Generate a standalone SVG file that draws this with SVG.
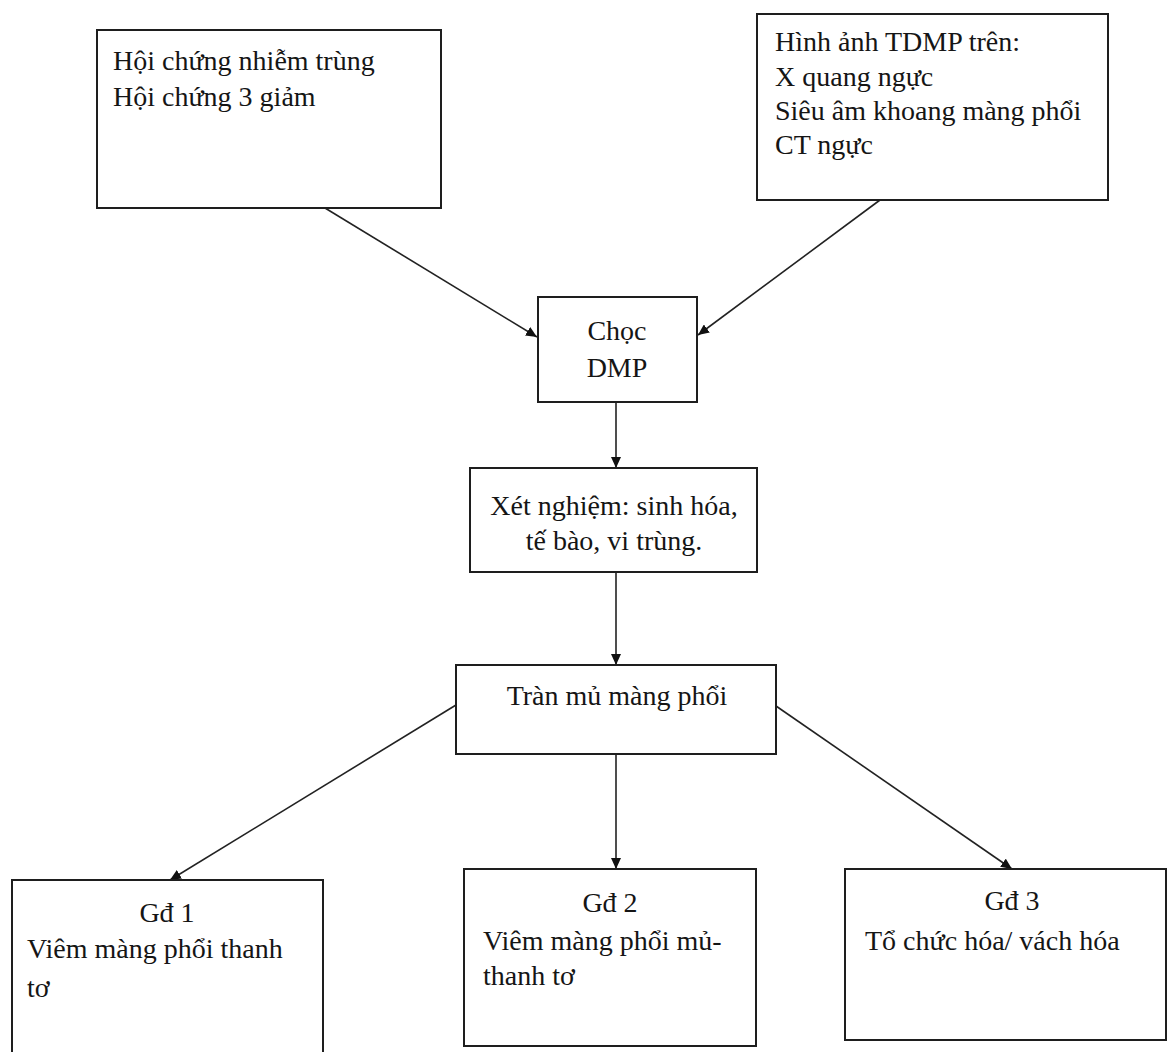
<svg xmlns="http://www.w3.org/2000/svg" width="1169" height="1052" viewBox="0 0 1169 1052">
  <style>
    .box { fill: #ffffff; stroke: #1e1e1e; stroke-width: 2; }
    .lbl { font-family: "Liberation Serif", "Times New Roman", serif; font-size: 28px; fill: #151515; }
    .mid { text-anchor: middle; }
    .edge { stroke: #222222; stroke-width: 1.6; fill: none; marker-end: url(#arrow); }
  </style>
  <defs>
    <marker id="arrow" markerUnits="userSpaceOnUse" markerWidth="12" markerHeight="10" refX="11" refY="5" orient="auto">
      <path d="M0,0 L11,5 L0,10 z" fill="#111111"/>
    </marker>
  </defs>

  <rect x="0" y="0" width="1169" height="1052" fill="#ffffff"/>

  <!-- connectors -->
  <g id="connectors">
    <line class="edge" x1="325" y1="208" x2="537" y2="337"/>
    <line class="edge" x1="880" y1="200" x2="698" y2="335"/>
    <line class="edge" x1="616" y1="402" x2="616" y2="468"/>
    <line class="edge" x1="616" y1="572" x2="616" y2="665"/>
    <line class="edge" x1="456" y1="705" x2="170" y2="880"/>
    <line class="edge" x1="616" y1="754" x2="616" y2="869"/>
    <line class="edge" x1="776" y1="706" x2="1012" y2="869"/>
  </g>

  <!-- clinical signs -->
  <g id="n-clinical">
    <rect class="box" x="97" y="30" width="344" height="178"/>
    <text class="lbl" x="113" y="70">Hội chứng nhiễm trùng</text>
    <text class="lbl" x="113" y="106">Hội chứng 3 giảm</text>
  </g>

  <!-- imaging -->
  <g id="n-imaging">
    <rect class="box" x="757" y="14" width="351" height="186"/>
    <text class="lbl" x="775" y="51">Hình ảnh TDMP trên:</text>
    <text class="lbl" x="775" y="86">X quang ngực</text>
    <text class="lbl" x="775" y="120">Siêu âm khoang màng phổi</text>
    <text class="lbl" x="775" y="154">CT ngực</text>
  </g>

  <!-- pleural tap -->
  <g id="n-tap">
    <rect class="box" x="538" y="297" width="159" height="105"/>
    <text class="lbl mid" x="617" y="340">Chọc</text>
    <text class="lbl mid" x="617" y="377">DMP</text>
  </g>

  <!-- lab tests -->
  <g id="n-tests">
    <rect class="box" x="470" y="468" width="287" height="104"/>
    <text class="lbl mid" x="614" y="515">Xét nghiệm: sinh hóa,</text>
    <text class="lbl mid" x="614" y="550">tế bào, vi trùng.</text>
  </g>

  <!-- empyema -->
  <g id="n-empyema">
    <rect class="box" x="456" y="665" width="320" height="89"/>
    <text class="lbl mid" x="617" y="705">Tràn mủ màng phổi</text>
  </g>

  <!-- stage 1 -->
  <g id="n-stage1">
    <rect class="box" x="12" y="880" width="311" height="180"/>
    <text class="lbl mid" x="167" y="922">Gđ 1</text>
    <text class="lbl" x="27" y="958">Viêm màng phổi thanh</text>
    <text class="lbl" x="27" y="997">tơ</text>
  </g>

  <!-- stage 2 -->
  <g id="n-stage2">
    <rect class="box" x="464" y="869" width="292" height="177"/>
    <text class="lbl mid" x="610" y="912">Gđ 2</text>
    <text class="lbl" x="483" y="950">Viêm màng phổi mủ-</text>
    <text class="lbl" x="483" y="985">thanh tơ</text>
  </g>

  <!-- stage 3 -->
  <g id="n-stage3">
    <rect class="box" x="845" y="869" width="321" height="171"/>
    <text class="lbl mid" x="1012" y="910">Gđ 3</text>
    <text class="lbl" x="865" y="950">Tổ chức hóa/ vách hóa</text>
  </g>
</svg>
